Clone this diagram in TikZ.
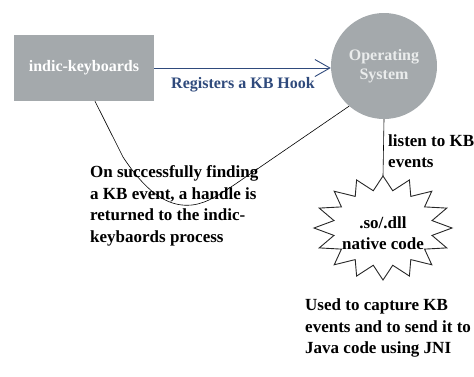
\documentclass[tikz,border=0pt]{standalone}
\usepackage{fontspec}
\setmainfont{Liberation Serif}
\usetikzlibrary{arrows.meta, positioning}
\definecolor{boxgray}{RGB}{164,169,172}
\definecolor{hookblue}{RGB}{47,74,124}
\definecolor{ostext}{RGB}{234,236,236}
\newcommand{\lblfont}{\fontsize{17}{21.5}\selectfont\bfseries}
\newcommand{\boxfont}{\fontsize{16}{19}\selectfont\bfseries}
\tikzset{
  procbox/.style={rectangle, fill=boxgray, minimum width=140pt,
    minimum height=66pt, font=\boxfont\color{white}},
  osnode/.style={circle, fill=boxgray, minimum size=106pt, inner sep=0pt,
    align=center, font=\boxfont\color{ostext}},
  notetext/.style={align=left, inner sep=0pt, font=\lblfont},
  hookarrow/.style={-{Straight Barb[length=15pt, width=17pt]}, line width=0.9pt, color=hookblue},
  conn/.style={line width=0.6pt, color=black}
}

\begin{document}
\begin{tikzpicture}[x=1pt, y=-1pt,
  starline/.style={line width=0.9pt, color=black!85, line join=miter},
  starnode/.style={align=center, inner sep=0pt, font=\lblfont}]

  \useasboundingbox (0,0) rectangle (474,376);

  % Process box and operating system
  \node[procbox] (kb) at (84,68) {indic-keyboards};
  \node[osnode] (os) at (384,66) {Operating\\System};

  % Hook registration
  \draw[hookarrow] (kb.east) -- (kb.east -| os.west);
  \node[notetext, text=hookblue, font=\boxfont] (hook) at (243,85) {Registers a KB Hook};

  % Native code star
  \begin{scope}[shift={(383,228)}]
    \draw[starline] (90:69 and 52)
      \foreach \i in {0,...,15}{ -- ({101.25+\i*22.5}:50 and 38) -- ({112.5+\i*22.5}:69 and 52) } -- cycle;
  \end{scope}
  \coordinate (natop) at (383,176);
  \node[starnode] (native) at (383,233) {.so/.dll\\native code};

  % Connections
  \draw[conn] (os.south) -- (natop);
  \draw[conn] ([xshift=11pt]kb.south) -- (123,157)
    .. controls (150,198) and (172,207) .. (192,205)
    .. controls (208,203) and (220,194) .. (234,185) -- (os.229);

  % Notes
  \node[notetext, anchor=west] (listen) at (388,151) {listen to KB\\events};
  \node[notetext, anchor=west] (ret) at (90,206) {On successfully finding\\a KB event, a handle is\\returned to the indic-\\keybaords process};
  \node[notetext, anchor=west] (jni) at (305,328) {Used to capture KB\\events and to send it to\\Java code using JNI};

\end{tikzpicture}
\end{document}
